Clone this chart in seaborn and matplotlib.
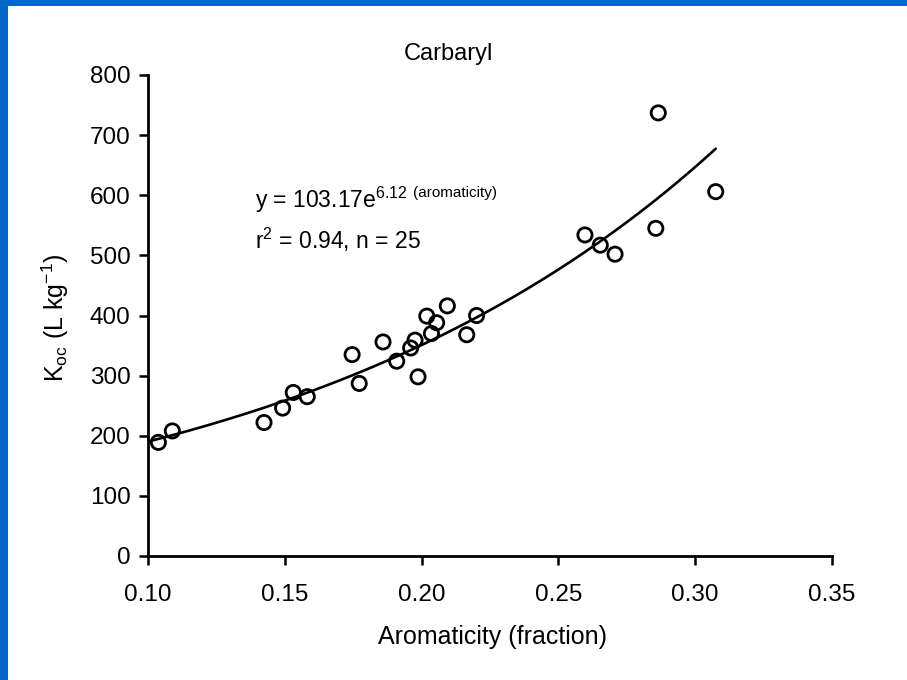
import numpy as np
import pandas as pd
import seaborn as sns
import matplotlib
matplotlib.use("Agg")
import matplotlib.pyplot as plt
from matplotlib.patches import Rectangle

# ---- data ----
aromaticity = [0.1038, 0.1089, 0.1424, 0.1492, 0.1531, 0.1582, 0.1746, 0.1772,
               0.1859, 0.1909, 0.1960, 0.1976, 0.1987, 0.2019, 0.2036, 0.2055,
               0.2094, 0.2165, 0.2201, 0.2597, 0.2653, 0.2707, 0.2856, 0.2865,
               0.3075]
koc = [189, 208, 222, 246, 272, 265, 335, 287,
       356, 324, 346, 359, 298, 399, 370, 388,
       416, 368, 400, 534, 517, 502, 545, 737,
       606]
fit_a = 103.17
fit_b = 6.12
fit_range = [0.100, 0.3075]
x_ticks = [0.10, 0.15, 0.20, 0.25, 0.30, 0.35]
y_ticks = [0, 100, 200, 300, 400, 500, 600, 700, 800]

df = pd.DataFrame({"aromaticity": aromaticity, "koc": koc})
xfit = np.linspace(fit_range[0], fit_range[1], 200)
fit_df = pd.DataFrame({"x": xfit, "y": fit_a * np.exp(fit_b * xfit)})

sns.set_theme(style="ticks")
plt.rcParams["font.family"] = ["Liberation Sans", "DejaVu Sans"]
plt.rcParams["text.color"] = "black"
plt.rcParams["mathtext.fontset"] = "custom"
plt.rcParams["mathtext.rm"] = "Liberation Sans"
plt.rcParams["mathtext.it"] = "Liberation Sans"
plt.rcParams["mathtext.bf"] = "Liberation Sans:bold"

W, H = 907, 680
fig = plt.figure(figsize=(W / 100, H / 100), dpi=100, facecolor="white")
ax = fig.add_axes([148 / W, 1 - 556 / H, (832 - 148) / W, (556 - 75) / H])

sns.lineplot(data=fit_df, x="x", y="y", ax=ax, color="black", linewidth=1.9)
sns.scatterplot(data=df, x="aromaticity", y="koc", ax=ax, s=105,
                color="black", edgecolor="black", linewidth=2.0, marker="o",
                zorder=3)
for coll in ax.collections:
    coll.set_facecolor("none")
    coll.set_edgecolor("black")

ax.set_xlim(0.10, 0.35)
ax.set_ylim(0, 800)
ax.set_xticks(x_ticks)
ax.set_xticklabels([f"{t:.2f}" for t in x_ticks])
ax.set_yticks(y_ticks)
ax.set_yticklabels([str(t) for t in y_ticks])
ax.set_xlabel("")
ax.set_ylabel("")
sns.despine(ax=ax)
for sp in ["left", "bottom"]:
    ax.spines[sp].set_linewidth(2.0)
    ax.spines[sp].set_color("black")
ax.tick_params(axis="both", direction="out", length=6.5, width=1.8,
               colors="black", labelcolor="black", labelsize=17.5)
ax.tick_params(axis="x", pad=14)
ax.tick_params(axis="y", pad=6)
ax.set_facecolor("white")

# titles / labels
fig.text(448 / W, 1 - 54 / H, "Carbaryl", ha="center", va="center",
         fontsize=17, color="black")
fig.text(493 / W, 1 - 637 / H, "Aromaticity (fraction)", ha="center",
         va="center", fontsize=18, color="black")
fig.text(55 / W, 1 - 318 / H, r"K$_{\mathregular{oc}}$ (L kg$^{\mathregular{-1}}$)",
         ha="center", va="center", rotation=90, fontsize=18, color="black")

# equation annotation
t1 = fig.text(255 / W, 1 - 208 / H, r"y = 103.17e$^{\mathregular{6.12}}$",
              ha="left", va="baseline", fontsize=16.5, color="black")
fig.text(255 / W, 1 - 240 / H, r"r$^{\mathregular{2}}$ = 0.94, n = 25",
         ha="left", va="center", fontsize=16.5, color="black")
fig.canvas.draw()
bb = t1.get_window_extent()
fig.text((bb.x1 + 5) / W, bb.y1 / H - 1 / H, "(aromaticity)", ha="left",
         va="top", fontsize=11, color="black")

# blue frame (left and top edges)
fig.patches.append(Rectangle((0, 0), 8 / W, 1, transform=fig.transFigure,
                             facecolor="#0066CC", edgecolor="none", zorder=10))
fig.patches.append(Rectangle((0, 1 - 6 / H), 1, 6 / H, transform=fig.transFigure,
                             facecolor="#0066CC", edgecolor="none", zorder=10))

fig.savefig("out.png", dpi=100, facecolor="white")
